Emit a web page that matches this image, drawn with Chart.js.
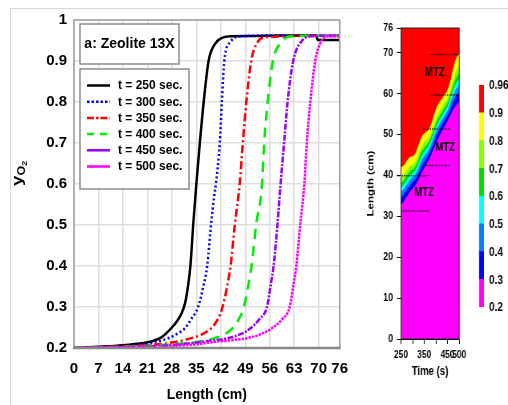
<!DOCTYPE html>
<html><head><meta charset="utf-8">
<script src="https://cdn.jsdelivr.net/npm/chart.js@4.4.0/dist/chart.umd.min.js"></script>
<style>
html,body{margin:0;padding:0;background:#fff;width:508px;height:405px;overflow:hidden;}
#frame{position:absolute;left:10px;top:8px;width:520px;height:420px;border-top:1px solid #d6d6d6;border-left:1px solid #d6d6d6;}
#left{position:absolute;left:0;top:0;}
#rightWrap{position:absolute;left:355px;top:0;width:144px;height:405px;transform:scaleX(0.8);transform-origin:0 0;}
#cbWrap{position:absolute;left:468px;top:0;width:60px;height:405px;transform:scaleX(0.8);transform-origin:0 0;}
canvas{display:block;}
</style></head>
<body>
<div id="frame"></div>
<canvas id="left" width="360" height="405"></canvas>
<div id="rightWrap"><canvas id="contour" width="144" height="405"></canvas></div>
<div id="cbWrap"><canvas id="cbar" width="60" height="405"></canvas></div>
<script>
// ---------- LEFT PANEL DATA ----------
const panelTitle = 'a: Zeolite 13X';
const seriesLabels = ['t = 250 sec.', 't = 300 sec.', 't = 350 sec.', 't = 400 sec.', 't = 450 sec.', 't = 500 sec.'];
const lengthTicks = [0, 7, 14, 21, 28, 35, 42, 49, 56, 63, 70, 76];

const L250 = [0, 7, 14, 21, 25, 28, 29.5, 30.8, 31.8, 32.6, 33.3, 34.1, 35, 36, 37.1, 38.5, 40.2, 42, 44, 50, 60, 69.2, 69.8, 76];
const y250 = [0.200, 0.203, 0.207, 0.214, 0.226, 0.250, 0.266, 0.285, 0.310, 0.350, 0.400, 0.500, 0.600, 0.700, 0.800, 0.900, 0.940, 0.955, 0.960, 0.961, 0.962, 0.962, 0.951, 0.951];

const L300 = [0, 7, 14, 21, 27, 30, 31.7, 33.5, 35.5, 37, 38.1, 39.2, 40.1, 40.6, 41.7, 42.3, 43, 44.8, 47.6, 55, 76];
const y300 = [0.200, 0.202, 0.205, 0.210, 0.224, 0.237, 0.248, 0.270, 0.300, 0.350, 0.400, 0.500, 0.570, 0.600, 0.700, 0.800, 0.900, 0.947, 0.960, 0.962, 0.962];

const L350 = [0, 7, 14, 21, 27, 33.6, 37, 39.2, 41, 42.5, 43.8, 44.8, 46, 47.4, 48.3, 49.3, 50.7, 52.3, 55, 76];
const y350 = [0.200, 0.202, 0.204, 0.207, 0.212, 0.224, 0.235, 0.248, 0.268, 0.300, 0.350, 0.400, 0.500, 0.600, 0.700, 0.800, 0.900, 0.943, 0.958, 0.962];

const L400 = [0, 7, 14, 21, 28, 35.5, 40.2, 43, 45.3, 47, 48.6, 49.8, 50.8, 52.1, 53.8, 54.4, 55.4, 56.9, 59.4, 61.7, 76];
const y400 = [0.200, 0.201, 0.203, 0.205, 0.209, 0.215, 0.224, 0.233, 0.248, 0.268, 0.300, 0.350, 0.400, 0.500, 0.600, 0.700, 0.800, 0.900, 0.947, 0.960, 0.962];

const L450 = [0, 7, 14, 21, 28, 36.5, 43.9, 48, 50.5, 53, 55.2, 56.2, 57.1, 58.2, 59.1, 60.1, 61.1, 62.7, 65, 67.4, 76];
const y450 = [0.200, 0.201, 0.202, 0.204, 0.207, 0.215, 0.224, 0.235, 0.248, 0.270, 0.300, 0.350, 0.400, 0.500, 0.600, 0.700, 0.800, 0.900, 0.947, 0.960, 0.962];

const L500 = [0, 7, 14, 21, 28, 35, 40.2, 45, 49.5, 53.5, 56.6, 59.5, 61.7, 62.7, 63.6, 64.7, 65.9, 66.6, 67.6, 69, 70.7, 72.5, 76];
const y500 = [0.200, 0.201, 0.202, 0.203, 0.205, 0.209, 0.215, 0.219, 0.224, 0.234, 0.248, 0.270, 0.300, 0.350, 0.400, 0.500, 0.600, 0.700, 0.800, 0.900, 0.947, 0.960, 0.960];

// ---------- RIGHT PANEL DATA ----------
const times = [250, 262.5, 275, 287.5, 300, 312.5, 325, 337.5, 350, 362.5, 375, 387.5, 400, 412.5, 425, 437.5, 450, 462.5, 475, 487.5, 500];
const front03 = [32.5, 33.5, 34.6, 35.7, 36.6, 37.5, 38.7, 40.2, 41.6, 42.8, 44.2, 45.8, 47.5, 49.1, 50.5, 51.8, 53.1, 54.5, 55.9, 57.0, 57.8];
const front04 = [34.3, 35.3, 36.3, 37.4, 38.2, 39.0, 40.4, 42.0, 43.3, 44.4, 45.7, 47.3, 49.2, 50.8, 52.1, 53.4, 54.6, 56.1, 57.9, 59.3, 60.2];
const front05 = [35.7, 36.6, 37.6, 38.7, 39.4, 40.2, 41.6, 43.3, 44.6, 45.5, 46.8, 48.5, 50.4, 52.0, 53.3, 54.5, 55.7, 57.4, 59.4, 61.0, 61.9];
const front06 = [36.8, 37.6, 38.7, 39.7, 40.3, 41.1, 42.6, 44.3, 45.6, 46.5, 47.6, 49.4, 51.4, 53.0, 54.2, 55.5, 56.6, 58.4, 60.6, 62.3, 63.3];
const front07 = [38.0, 38.8, 39.8, 40.9, 41.3, 42.1, 43.7, 45.5, 46.7, 47.5, 48.6, 50.4, 52.5, 54.1, 55.2, 56.5, 57.6, 59.4, 61.8, 63.8, 64.9];
const front08 = [39.4, 40.1, 41.1, 42.2, 42.5, 43.3, 44.9, 46.8, 48.0, 48.7, 49.7, 51.6, 53.7, 55.3, 56.4, 57.7, 58.7, 60.7, 63.3, 65.5, 66.7];
const front09 = [41.7, 42.3, 43.3, 44.3, 44.5, 45.2, 47.0, 49.0, 50.1, 50.6, 51.5, 53.5, 55.8, 57.4, 58.4, 59.6, 60.6, 62.7, 65.8, 68.3, 69.6];

const rightLengthTicks = [0, 10, 20, 30, 40, 50, 60, 70, 76];
const timeTicks = [250, 300, 350, 400, 450, 500];
const timeTickLabels = [250, 350, 450, 500];
const colorbarLabels = ['0.2', '0.3', '0.4', '0.5', '0.6', '0.7', '0.8', '0.9', '0.96'];

// MTZ annotations (time, length)
const mtzTimes = [395, 440, 349];
const mtzLengths = [65, 46.7, 35.7];
// dotted marker lines
const dotLineLength = [69.5, 59.6, 51.3, 42.4, 39.9, 31.3];
const dotLineStart = [372, 372, 345, 345, 233, 250];
const dotLineEnd = [497, 497, 464, 464, 372, 372];

// ---------- STYLES ----------
const FONT = "'Liberation Sans', Arial, sans-serif";
const seriesColors = ['#000000', '#0000FF', '#FF0000', '#00EE00', '#9900FF', '#FF00FF'];
const seriesDash = [[], [2, 2.5], [8, 3, 2, 3], [10, 7], [6, 1.5, 2, 1.5], [2.5, 1]];
const legendDash = [[], [2.5, 2], [7, 2, 2.5, 2], [7, 6], [], []];
const bandColors = ['#FF00FF', '#0000FF', '#0080FF', '#00FFFF', '#00DD00', '#88FF00', '#FFFF00', '#FF0000'];

const seriesL = [L250, L300, L350, L400, L450, L500];
const seriesY = [y250, y300, y350, y400, y450, y500];

const leftDecor = {
  id: 'leftDecor',
  afterDatasetsDraw(chart) {
    const {ctx, chartArea: a} = chart;
    ctx.save();
    ctx.strokeStyle = '#a0a0a0'; ctx.lineWidth = 1.5;
    ctx.strokeRect(a.left, a.top, a.right - a.left, a.bottom - a.top);
    ctx.strokeStyle = '#888888'; ctx.lineWidth = 2.5;
    ctx.beginPath(); ctx.moveTo(a.left - 1, a.bottom); ctx.lineTo(a.right + 1, a.bottom); ctx.stroke();
    // title box
    ctx.fillStyle = '#fff'; ctx.fillRect(80, 24, 99, 40);
    ctx.strokeStyle = '#8c8c8c'; ctx.lineWidth = 1.5; ctx.strokeRect(80, 24, 99, 40);
    ctx.fillStyle = '#000'; ctx.font = 'bold 14px ' + FONT;
    ctx.textAlign = 'center'; ctx.textBaseline = 'middle';
    ctx.fillText(panelTitle, 129.5, 44.5);
    // legend box
    ctx.fillStyle = '#fff'; ctx.fillRect(80, 69, 109, 120);
    ctx.strokeRect(80, 69, 109, 120);
    chart.data.datasets.forEach((ds, i) => {
      const y = 85.5 + i * 16.2;
      ctx.strokeStyle = ds.borderColor; ctx.lineWidth = 2.5;
      ctx.setLineDash(legendDash[i]);
      ctx.beginPath(); ctx.moveTo(87, y); ctx.lineTo(110, y); ctx.stroke();
      ctx.setLineDash([]);
      ctx.fillStyle = '#000'; ctx.font = 'bold 12px ' + FONT;
      ctx.textAlign = 'left'; ctx.textBaseline = 'middle';
      ctx.fillText(ds.label, 118, y + 0.5);
    });
    // y axis label  y_O2
    ctx.translate(22, 186); ctx.rotate(-Math.PI / 2); ctx.scale(1.25, 1);
    ctx.fillStyle = '#000'; ctx.textAlign = 'left'; ctx.textBaseline = 'alphabetic';
    ctx.font = 'bold 15px ' + FONT; ctx.fillText('y', 0, 0);
    const w1 = ctx.measureText('y').width;
    ctx.font = 'bold 10px ' + FONT; ctx.fillText('O', w1, 3);
    const w2 = ctx.measureText('O').width;
    ctx.font = 'bold 7px ' + FONT; ctx.fillText('2', w1 + w2, 5);
    ctx.restore();
  }
};

new Chart(document.getElementById('left'), {
  type: 'line',
  data: {
    datasets: seriesLabels.map((lab, i) => ({
      label: lab,
      data: seriesL[i].map((x, k) => ({x: x, y: seriesY[i][k]})),
      borderColor: seriesColors[i],
      borderWidth: 2.5,
      borderDash: seriesDash[i],
      pointRadius: 0,
      fill: false,
      cubicInterpolationMode: 'monotone',
      order: 6 - i
    }))
  },
  options: {
    responsive: false, animation: false, devicePixelRatio: 1,
    layout: {padding: {top: 20, right: 16, left: 0, bottom: 0}},
    plugins: {legend: {display: false}, tooltip: {enabled: false}},
    scales: {
      x: {
        type: 'linear', min: 0, max: 76,
        afterBuildTicks: s => { s.ticks = lengthTicks.map(v => ({value: v})); },
        afterFit: s => { s.height = 57; },
        grid: {color: '#dedede', lineWidth: 1.5, drawTicks: false},
        border: {display: false},
        ticks: {autoSkip: false, maxRotation: 0, padding: 12, color: '#000',
                font: {family: FONT, size: 15, weight: 'bold'}},
        title: {display: true, text: 'Length (cm)', color: '#000',
                font: {family: FONT, size: 14, weight: 'bold'}, padding: {top: 0, bottom: 1}}
      },
      y: {
        min: 0.2, max: 1,
        afterFit: s => { s.width = 74; },
        grid: {color: '#dedede', lineWidth: 1.5, drawTicks: false},
        border: {display: false},
        ticks: {stepSize: 0.1, padding: 7, color: '#000',
                font: {family: FONT, size: 15, weight: 'bold'},
                callback: v => (Math.abs(v - 1) < 1e-6 ? '1' : v.toFixed(1))}
      }
    }
  },
  plugins: [leftDecor]
});

// ---------- CONTOUR ----------
const fronts = [front03, front04, front05, front06, front07, front08, front09];
const contourSets = fronts.map((f, i) => ({
  data: times.map((t, k) => ({x: t, y: f[k]})),
  fill: i === 0 ? 'origin' : '-1',
  backgroundColor: bandColors[i],
  borderColor: bandColors[i],
  borderWidth: 1,
  pointRadius: 0,
  cubicInterpolationMode: 'monotone',
  order: 10
}));
contourSets.push({
  data: times.map((t, k) => ({x: t, y: front09[k]})),
  fill: 'end',
  backgroundColor: bandColors[7],
  borderColor: bandColors[6],
  borderWidth: 1,
  pointRadius: 0,
  cubicInterpolationMode: 'monotone',
  order: 10
});
dotLineLength.forEach((L, i) => {
  contourSets.push({
    data: [{x: dotLineStart[i], y: L}, {x: dotLineEnd[i], y: L}],
    borderColor: '#000', borderWidth: 1.5, borderDash: [1, 1.2],
    pointRadius: 0, fill: false, clip: false, order: 0
  });
});

const contourDecor = {
  id: 'contourDecor',
  afterDatasetsDraw(chart) {
    const {ctx, chartArea: a, scales: {x, y}} = chart;
    ctx.save();
    ctx.strokeStyle = '#222'; ctx.lineWidth = 1;
    ctx.strokeRect(a.left, a.top, a.right - a.left, a.bottom - a.top);
    ctx.fillStyle = '#000'; ctx.font = 'bold 12px ' + FONT;
    ctx.textAlign = 'center'; ctx.textBaseline = 'middle';
    mtzTimes.forEach((t, i) => ctx.fillText('MTZ', x.getPixelForValue(t), y.getPixelForValue(mtzLengths[i])));
    ctx.restore();
  }
};

new Chart(document.getElementById('contour'), {
  type: 'line',
  data: {datasets: contourSets},
  options: {
    responsive: false, animation: false, devicePixelRatio: 1,
    layout: {padding: {top: 28, right: 7.75, left: 0, bottom: 26}},
    plugins: {legend: {display: false}, tooltip: {enabled: false}},
    scales: {
      x: {
        type: 'linear', min: 250, max: 500,
        afterBuildTicks: s => { s.ticks = timeTicks.map(v => ({value: v})); },
        afterFit: s => { s.height = 40; },
        grid: {drawOnChartArea: false, tickLength: 5, color: '#000'},
        border: {display: true, color: '#000'},
        ticks: {autoSkip: false, maxRotation: 0, padding: 5, color: '#000',
                font: {family: FONT, size: 10.5, weight: 'bold'},
                callback: v => (timeTickLabels.includes(v) ? String(v) : '')},
        title: {display: true, text: 'Time (s)', color: '#000',
                font: {family: FONT, size: 12, weight: 'bold'}, padding: {top: 0, bottom: 0}}
      },
      y: {
        min: 0, max: 76,
        afterBuildTicks: s => { s.ticks = rightLengthTicks.map(v => ({value: v})); },
        afterFit: s => { s.width = 57.5; },
        grid: {drawOnChartArea: false, tickLength: 5, color: '#000'},
        border: {display: true, color: '#000'},
        ticks: {autoSkip: false, padding: 5, color: '#000',
                font: {family: FONT, size: 11, weight: 'bold'}},
        title: {display: true, text: 'Length (cm)', color: '#000',
                font: {family: FONT, size: 11.5, weight: 'bold'}, padding: {top: 13, bottom: 0}}
      }
    }
  },
  plugins: [contourDecor]
});

// ---------- COLORBAR ----------
const cbLabelsPlugin = {
  id: 'cbLabels',
  afterDraw(chart) {
    const {ctx, chartArea: a, scales: {y}} = chart;
    ctx.save();
    ctx.fillStyle = '#000'; ctx.font = 'bold 12.5px ' + FONT;
    ctx.textAlign = 'left'; ctx.textBaseline = 'middle';
    colorbarLabels.forEach((lab, i) => ctx.fillText(lab, a.right + 6.25, y.getPixelForValue(i) + 1));
    ctx.restore();
  }
};
new Chart(document.getElementById('cbar'), {
  type: 'bar',
  data: {
    labels: [''],
    datasets: bandColors.map((c, i) => ({
      data: [[i, i + 1]], backgroundColor: c, borderWidth: 0,
      grouped: false, barPercentage: 1, categoryPercentage: 1
    }))
  },
  options: {
    responsive: false, animation: false, devicePixelRatio: 1,
    layout: {padding: {top: 85, bottom: 98, left: 13.75, right: 40}},
    plugins: {legend: {display: false}, tooltip: {enabled: false}},
    scales: {
      x: {display: false},
      y: {display: false, min: 0, max: 8}
    }
  },
  plugins: [cbLabelsPlugin]
});
</script>
</body></html>
